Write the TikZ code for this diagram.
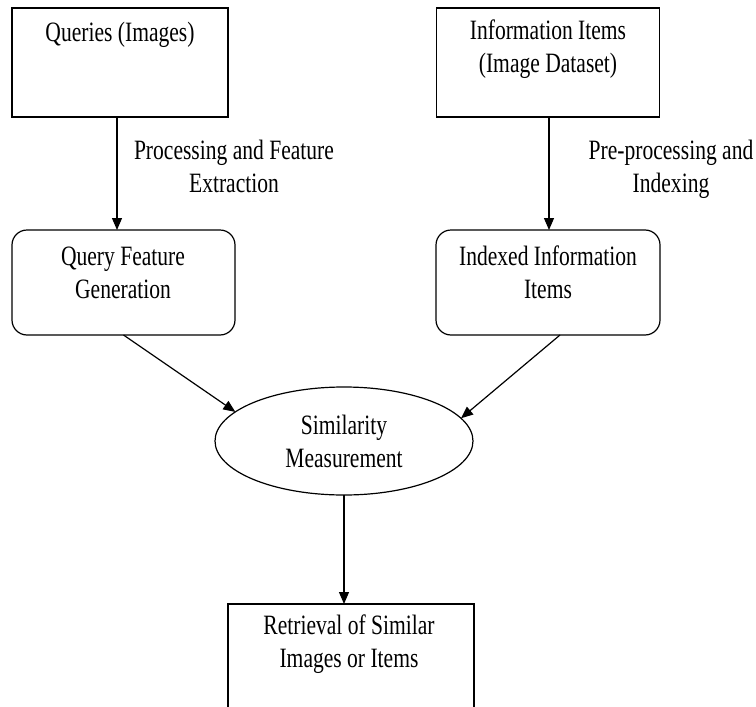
\documentclass[tikz,border=0pt]{standalone}
\usepackage{fontspec}
\setmainfont[FakeStretch=0.77]{Liberation Serif}
\usetikzlibrary{arrows.meta,shapes.geometric}
\begin{document}
\begin{tikzpicture}[x=1pt,y=-1pt,
  every node/.style={font=\fontsize{28}{33}\selectfont, inner sep=0pt, outer sep=0pt},
  plainbox/.style={draw, line width=1.2pt, minimum width=#1, minimum height=109pt},
  roundbox/.style={draw, line width=1.2pt, rounded corners=15pt, minimum width=#1, minimum height=105pt},
  txt/.style={align=center, execute at begin node=\strut, execute at end node=\strut},
  conn/.style={line width=1.2pt, -{Triangle[length=12pt,width=10pt]}}]
\useasboundingbox (0,0) rectangle (756,707);
\clip (0,0) rectangle (756,707);
\fill[white] (0,0) rectangle (756,707);
% boxes
\node[plainbox=216pt] (q) at (120,62.5) {};
\node[txt] (qt) at (120,34.4) {Queries (Images)};
\node[plainbox=223pt] (info) at (548,62.5) {};
\node[txt] (infot) at (548,50.9) {Information Items\\(Image Dataset)};
\node[roundbox=223pt] (qfg) at (123.5,282.5) {};
\node[txt] (qfgt) at (123,277.4) {Query Feature\\Generation};
\node[roundbox=224pt] (iir) at (548,282.5) {};
\node[txt] (iirt) at (548,277.4) {Indexed Information\\Items};
\node[draw, ellipse, line width=1.2pt, minimum width=258pt, minimum height=108pt, align=center] (sim) at (344,441) {Similarity\\Measurement};
\node[plainbox=246pt] (ret) at (351,658.5) {};
\node[txt] (rett) at (349,645.9) {Retrieval of Similar\\Images or Items};
% labels
\node[txt] (l1) at (234,170.9) {Processing and Feature\\Extraction};
\node[txt] (l2) at (671,170.9) {Pre-processing and\\Indexing};
% connectors
\draw[conn] ([xshift=-3pt]q.south) -- ([xshift=-3pt]q.south |- qfg.north);
\draw[conn] ([xshift=1pt]info.south) -- ([xshift=1pt]info.south |- iir.north);
\draw[conn] (qfg.south) -- (sim.165);
\draw[conn] ([xshift=12pt]iir.south) -- (sim.11);
\draw[conn] (sim.south) -- (sim.south |- ret.north);
\end{tikzpicture}
\end{document}
